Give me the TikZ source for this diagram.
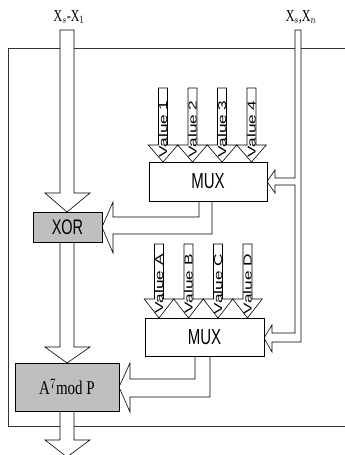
\documentclass[tikz,border=0pt]{standalone}
\usepackage{fontspec}
\setmainfont{Liberation Serif}
\setsansfont{Liberation Sans}
\usepackage{graphicx}
\tikzset{
  blk/.style={draw=black, line width=0.6pt, fill=white, line join=miter},
  gbox/.style={draw=black, line width=0.7pt, fill=black!25, inner sep=0pt},
  wbox/.style={draw=black, line width=0.7pt, fill=white, inner sep=0pt},
  frame/.style={draw=black!80, line width=0.8pt},
  vlab/.style={inner sep=0pt, rotate=90, font=\fontsize{11.5}{11.5}\sffamily},
  tlab/.style={inner sep=0pt},
}
\newcommand{\stretchtxt}[2]{\scalebox{1}[#1]{#2}}
\newcommand{\longtxt}[1]{\scalebox{1.5}[1]{#1}}
\begin{document}
\begin{tikzpicture}[x=1pt,y=-1pt]
\useasboundingbox (0,0) rectangle (345,455);
% outer frame
\draw[frame] (352,48) -- (8,48) -- (8,426) -- (352,426);

% left column (input to XOR)
\draw[blk] (60,30) -- (74,30) -- (74,193) -- (90,193) -- (67,212) -- (45,193) -- (60,193) -- cycle;
% XOR to A7 mod P
\draw[blk] (60,240) -- (74,240) -- (74,347) -- (90,347) -- (67,363) -- (45,347) -- (60,347) -- cycle;
% output
\draw[blk] (60,409) -- (74,409) -- (74,440) -- (90,440) -- (67,457) -- (45,440) -- (60,440) -- cycle;

% right column with two branches
\draw[blk] (295,30) -- (301,30) -- (301,342) -- (272,342) -- (272,352) -- (264,338) -- (272,325) -- (272,333) -- (295,333)
  -- (295,185) -- (275,185) -- (275,193) -- (267,181.5) -- (275,170) -- (275,178) -- (295,178) -- cycle;

% upper MUX output to XOR
\draw[blk] (199,200) -- (199,217) -- (113,217) -- (113,202) -- (102,227) -- (113,253) -- (113,234) -- (212,234) -- (212,200) -- cycle;
% lower MUX output to A7 mod P
\draw[blk] (195,355) -- (195,379) -- (130,379) -- (130,363) -- (119,387) -- (130,412) -- (130,397) -- (210,397) -- (210,355) -- cycle;

% value inputs (upper)
\foreach \cx/\t [count=\i] in {163/1,192.5/2,222/3,251.5/4}{
  \draw[blk] (\cx-4.5,88) -- (\cx+4.5,88) -- (\cx+4.5,145) -- (\cx+14.75,145) -- (\cx,162) -- (\cx-14.75,145) -- (\cx-4.5,145) -- cycle;
  \node[vlab] (vu\i) at (\cx,129) {\longtxt{Value \t}};
}
% value inputs (lower)
\foreach \cx/\t [count=\i] in {159/A,188.5/B,218/C,247.5/D}{
  \draw[blk] (\cx-4.5,244) -- (\cx+4.5,244) -- (\cx+4.5,299) -- (\cx+14.75,299) -- (\cx,318) -- (\cx-14.75,299) -- (\cx-4.5,299) -- cycle;
  \node[vlab] (vl\i) at (\cx,284) {\longtxt{Value \t}};
}

% boxes
\node[wbox, minimum width=118pt, minimum height=39pt] (mux1) at (208,181.5) {\stretchtxt{1.45}{\fontsize{15}{15}\sffamily MUX}};
\node[wbox, minimum width=119pt, minimum height=38pt] (mux2) at (204.5,337) {\stretchtxt{1.45}{\fontsize{15}{15}\sffamily MUX}};
\node[gbox, minimum width=69pt, minimum height=30pt] (xor) at (67.5,227) {\stretchtxt{1.45}{\fontsize{14.5}{14.5}\sffamily XOR}};
\node[gbox, minimum width=104pt, minimum height=48pt] (amod) at (67,387) {\stretchtxt{1.3}{\fontsize{15}{15}\selectfont A$^7$mod P}};

% top labels
\node[tlab] (xin1) at (69,17) {\stretchtxt{1.4}{\fontsize{12}{12}\selectfont X$_s$-X$_1$}};
\node[tlab] (xin2) at (301,17) {\stretchtxt{1.4}{\fontsize{12}{12}\selectfont X$_s$,X$_n$}};
\end{tikzpicture}
\end{document}
